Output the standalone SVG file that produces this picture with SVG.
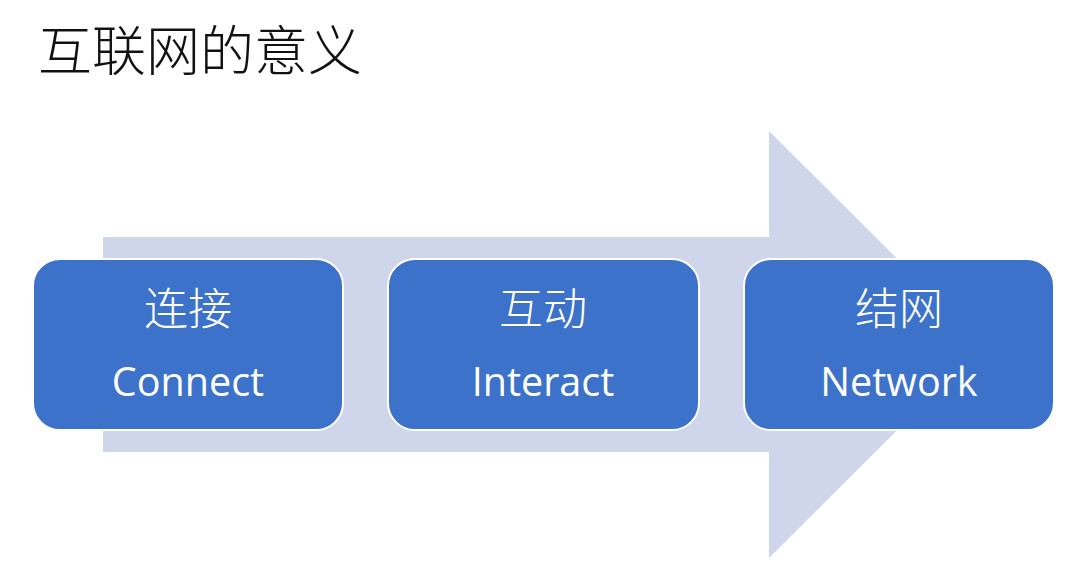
<svg xmlns="http://www.w3.org/2000/svg" width="1080" height="588" viewBox="0 0 1080 588">
<style>
.box{fill:#3C72CA;stroke:#ffffff;stroke-width:2}
.cn{font-family:"Noto Sans CJK SC",sans-serif;font-size:44px;font-weight:300;fill:#ffffff;text-anchor:middle}
.en{font-family:"Open Sans","Liberation Sans",sans-serif;font-size:39.5px;fill:#ffffff;text-anchor:middle}
.title{font-family:"Noto Sans CJK SC",sans-serif;font-size:54px;font-weight:300;fill:#111111}
</style>
<rect width="1080" height="588" fill="#ffffff"/>
<text class="title" x="38" y="71">互联网的意义</text>
<g id="connectors">
<polygon points="103,237 769,237 769,131 983,344.5 769,558 769,452 103,452" fill="#CFD5EA"/>
</g>
<g id="node1">
<rect class="box" x="33" y="259" width="310" height="171" rx="27"/>
<text class="cn" x="188" y="325">连接</text>
<text class="en" x="188" y="396">Connect</text>
</g>
<g id="node2">
<rect class="box" x="388" y="259" width="311" height="171" rx="27"/>
<text class="cn" x="543" y="325">互动</text>
<text class="en" x="543" y="396">Interact</text>
</g>
<g id="node3">
<rect class="box" x="744" y="259" width="310" height="171" rx="27"/>
<text class="cn" x="899" y="325">结网</text>
<text class="en" x="899" y="396">Network</text>
</g>
</svg>
